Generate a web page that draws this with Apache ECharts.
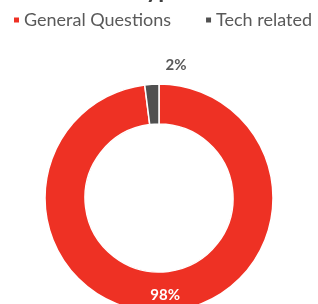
<!DOCTYPE html>
<html>
<head>
<meta charset="utf-8">
<script src="https://cdn.jsdelivr.net/npm/echarts@6/dist/echarts.min.js"></script>
<style>
  html, body { margin: 0; padding: 0; background: #fff; }
  #chart { width: 318px; height: 304px; }
</style>
</head>
<body>
<div id="chart"></div>
<script>
const categories = ['General Questions', 'Tech related'];
const shares = [98, 2];
const colors = ['#ee3124', '#505050'];

const chart = echarts.init(document.getElementById('chart'));

chart.setOption({
  animation: false,
  color: colors,
  title: {
    text: 'Type',
    left: 'center',
    top: -27,
    textStyle: { fontFamily: 'Lato', fontSize: 24, fontWeight: 'bold', color: '#404040' }
  },
  legend: {
    data: categories,
    left: 12,
    top: 11,
    width: 310,
    padding: 0,
    itemWidth: 7,
    itemHeight: 7,
    itemGap: 33,
    icon: 'rect',
    textStyle: { fontFamily: 'Lato', fontSize: 18, color: '#595959', padding: [0, 0, 0, -1] }
  },
  series: [{
    type: 'pie',
    center: [159, 198],
    radius: [74, 114],
    startAngle: 90,
    clockwise: true,
    itemStyle: { borderColor: '#fff', borderWidth: 1.5 },
    label: {
      show: true,
      formatter: '{c}%',
      fontFamily: 'Lato',
      fontSize: 15
    },
    labelLine: { show: false },
    data: categories.map((name, i) => ({
      name: name,
      value: shares[i],
      label: i === 0
        ? { position: 'inside', color: '#fff', fontWeight: 'bold' }
        : { position: 'outside', color: '#595959', fontWeight: 'bold' },
      labelLine: { show: false, length: 4, length2: 0 }
    })),
    labelLayout: function (p) {
      if (p.dataIndex === 1) {
        return { dx: 40, dy: -15 };
      }
    }
  }]
});
</script>
</body>
</html>
